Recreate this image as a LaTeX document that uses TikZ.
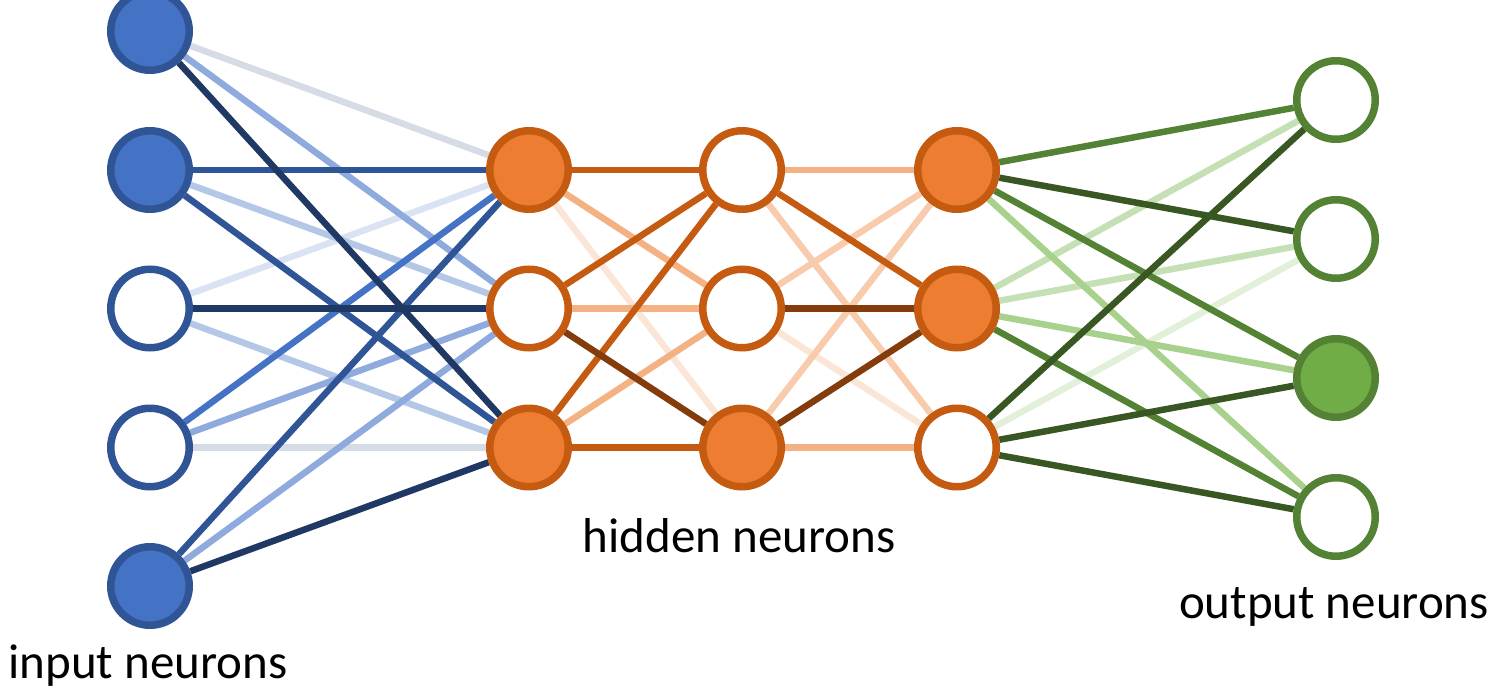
\documentclass[tikz,border=0pt]{standalone}
\usepackage{fontspec}
\setmainfont{Carlito}
\usetikzlibrary{backgrounds}
\definecolor{bfill}{HTML}{4472C4}
\definecolor{bline}{HTML}{2F5597}
\definecolor{bdark}{HTML}{203864}
\definecolor{bl1}{HTML}{8FAADC}
\definecolor{bl2}{HTML}{B4C7E7}
\definecolor{bl3}{HTML}{DAE3F3}
\definecolor{bgray}{HTML}{D6DCE5}
\definecolor{ofill}{HTML}{ED7D31}
\definecolor{oline}{HTML}{C55A11}
\definecolor{odark}{HTML}{843C0C}
\definecolor{ol1}{HTML}{F4B183}
\definecolor{ol2}{HTML}{F8CBAD}
\definecolor{ol3}{HTML}{FBE5D6}
\definecolor{gfill}{HTML}{70AD47}
\definecolor{gline}{HTML}{548235}
\definecolor{gdark}{HTML}{385723}
\definecolor{gl1}{HTML}{A9D18E}
\definecolor{gl2}{HTML}{C5E0B4}
\definecolor{gl3}{HTML}{E2F0D9}
\begin{document}
\begin{tikzpicture}[x=1pt,y=-1pt,
  neuron/.style={circle, minimum size=78.5pt, inner sep=0pt, line width=7.5pt, fill=white},
  inon/.style={neuron, draw=bline, fill=bfill},
  inoff/.style={neuron, draw=bline},
  hon/.style={neuron, draw=oline, fill=ofill},
  hoff/.style={neuron, draw=oline},
  oon/.style={neuron, draw=gline, fill=gfill},
  ooff/.style={neuron, draw=gline},
  conn/.style={line width=6.5pt},
  lbl/.style={font=\fontsize{49}{58}\selectfont, anchor=base, inner sep=0pt}]
\useasboundingbox (0,0) rectangle (1501,693);
% input
\node[inon]  (i1) at (150,31) {};
\node[inon]  (i2) at (150,170) {};
\node[inoff] (i3) at (150,308.5) {};
\node[inoff] (i4) at (150,447.5) {};
\node[inon]  (i5) at (150,586) {};
% hidden 1
\node[hon]  (a1) at (529,170) {};
\node[hoff] (a2) at (529,308.5) {};
\node[hon]  (a3) at (529,447.5) {};
% hidden 2
\node[hoff] (b1) at (742,170) {};
\node[hoff] (b2) at (742,308.5) {};
\node[hon]  (b3) at (742,447.5) {};
% hidden 3
\node[hon]  (c1) at (957,170) {};
\node[hon]  (c2) at (957,308.5) {};
\node[hoff] (c3) at (957,447.5) {};
% output
\node[ooff] (o1) at (1336,100) {};
\node[ooff] (o2) at (1336,239) {};
\node[oon]  (o3) at (1336,378) {};
\node[ooff] (o4) at (1336,517) {};
% labels
\node[lbl] (li) at (148,678) {input neurons};
\node[lbl] (lh) at (739,552) {hidden neurons};
\node[lbl] (lo) at (1334,618) {output neurons};
\begin{pgfonlayer}{background}
% input -> hidden 1
\draw[conn, bgray] (i1) -- (a1);
\draw[conn, bl3] (i3) -- (a1);
\draw[conn, bgray] (i4) -- (a3);
\draw[conn, bl2] (i2) -- (a2);
\draw[conn, bl2] (i3) -- (a3);
\draw[conn, bl1] (i1) -- (a2);
\draw[conn, bl1] (i4) -- (a2);
\draw[conn, bl1] (i5) -- (a2);
\draw[conn, bline] (i2) -- (a1);
\draw[conn, bline] (i2) -- (a3);
\draw[conn, bline] (i5) -- (a1);
\draw[conn, bfill] (i4) -- (a1);
\draw[conn, bdark] (i1) -- (a3);
\draw[conn, bdark] (i3) -- (a2);
\draw[conn, bdark] (i5) -- (a3);
% hidden 1 -> hidden 2
\draw[conn, ol3] (a1) -- (b3);
\draw[conn, ol1] (a1) -- (b2);
\draw[conn, ol1] (a2) -- (b2);
\draw[conn, ol1] (a3) -- (b2);
\draw[conn, oline] (a1) -- (b1);
\draw[conn, oline] (a2) -- (b1);
\draw[conn, oline] (a3) -- (b1);
\draw[conn, oline] (a3) -- (b3);
\draw[conn, odark] (a2) -- (b3);
% hidden 2 -> hidden 3
\draw[conn, ol3] (b2) -- (c3);
\draw[conn, ol2] (b1) -- (c3);
\draw[conn, ol2] (b2) -- (c1);
\draw[conn, ol2] (b3) -- (c1);
\draw[conn, ol1] (b1) -- (c1);
\draw[conn, ol1] (b3) -- (c3);
\draw[conn, oline] (b1) -- (c2);
\draw[conn, odark] (b2) -- (c2);
\draw[conn, odark] (b3) -- (c2);
% hidden 3 -> output
\draw[conn, gl3] (c3) -- (o2);
\draw[conn, gl2] (c2) -- (o1);
\draw[conn, gl2] (c2) -- (o2);
\draw[conn, gl1] (c2) -- (o3);
\draw[conn, gl1] (c1) -- (o4);
\draw[conn, gline] (c1) -- (o1);
\draw[conn, gline] (c1) -- (o3);
\draw[conn, gline] (c2) -- (o4);
\draw[conn, gdark] (c1) -- (o2);
\draw[conn, gdark] (c3) -- (o1);
\draw[conn, gdark] (c3) -- (o3);
\draw[conn, gdark] (c3) -- (o4);
\end{pgfonlayer}
\end{tikzpicture}
\end{document}
